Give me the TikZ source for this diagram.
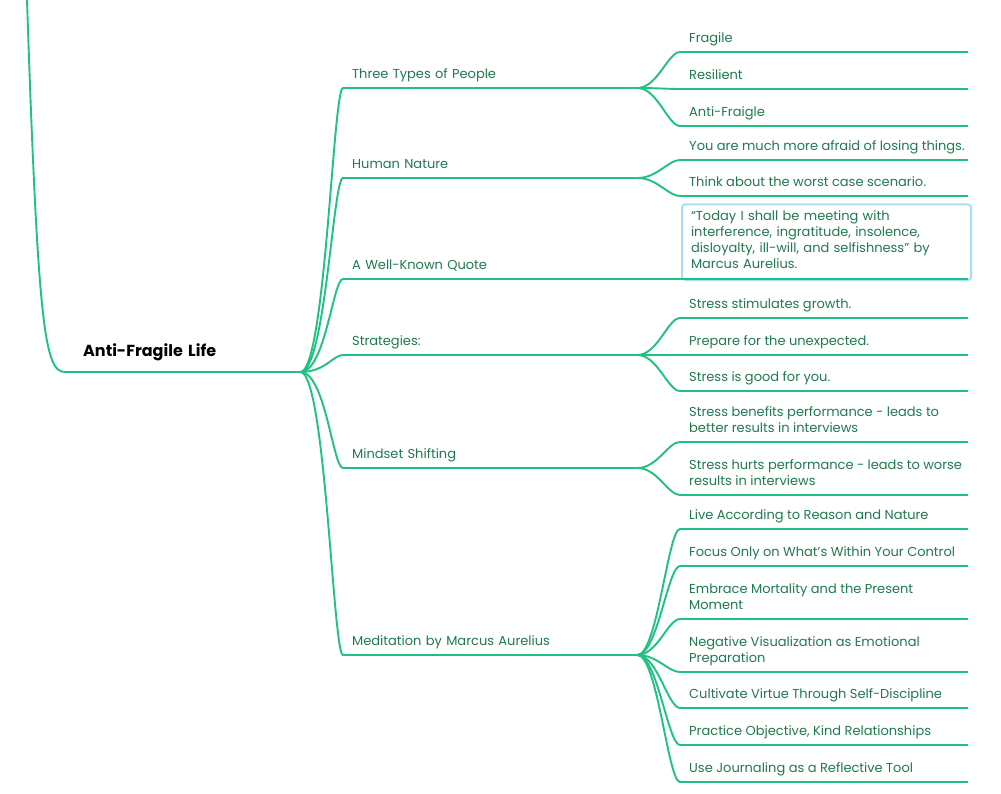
\documentclass[tikz,border=0pt]{standalone}
\usepackage{fontspec}
\setmainfont{Poppins}
\usepackage{xcolor}
\definecolor{linegreen}{HTML}{1FC280}
\definecolor{textgreen}{HTML}{1F7A4D}
\definecolor{boxblue}{HTML}{A9DDF6}
\tikzset{
  branch/.style={draw=linegreen, line width=1.9pt},
  rootnode/.style={anchor=south west, inner xsep=18pt, inner ysep=9.3pt, text width=199pt, align=left, font=\fontsize{16}{19}\selectfont\bfseries, text=black},
  topic/.style={anchor=south west, inner xsep=9pt, inner ysep=4.7pt, text width=276pt, align=left, font=\fontsize{13}{16}\selectfont, text=textgreen},
  leaf/.style={anchor=south west, inner xsep=9pt, inner ysep=4.7pt, align=left, font=\fontsize{13}{16}\selectfont, text=textgreen},
  quotebox/.style={leaf, text width=271pt, inner ysep=6.5pt, draw=boxblue, line width=2pt, rounded corners=3pt},
}
\begin{document}
\begin{tikzpicture}[x=1pt,y=-1pt]
  \useasboundingbox (0,0) rectangle (1001,793);

  % root
  \coordinate (top) at (27,0);
  \coordinate (rim) at (968,0); % right end of all leaf lines
  \node[rootnode] (root) at (65,372) {Anti-Fragile Life\strut};
  \draw[branch] (top) .. controls (38,330) and (45,372) .. (root.south west) -- (root.south east);

  % first level
  \node[topic] (t1) at (343,88)  {Three Types of People\strut};
  \node[topic] (t2) at (343,178) {Human Nature\strut};
  \node[topic] (t3) at (343,279) {A Well-Known Quote\strut};
  \node[topic] (t4) at (343,355) {Strategies:\strut};
  \node[topic] (t5) at (343,468) {Mindset Shifting\strut};
  \node[topic] (t6) at (343,655) {Meditation by Marcus Aurelius\strut};
  \foreach \t in {t1,t2,t3,t4,t5,t6}
    \draw[branch] (root.south east) .. controls +(25,0) and +(-10,0) .. (\t.south west) -- (\t.south east);

  % three types of people
  \node[leaf] (c11) at (680,52)  {Fragile\strut};
  \node[leaf] (c12) at (680,89)  {Resilient\strut};
  \node[leaf] (c13) at (680,126) {Anti-Fraigle\strut};
  % human nature
  \node[leaf] (c21) at (680,160) {You are much more afraid of losing things.\strut};
  \node[leaf] (c22) at (680,196) {Think about the worst case scenario.\strut};
  % quote
  \node[quotebox] (c31) at (681,281) {“Today I shall be meeting with\\interference, ingratitude, insolence,\\disloyalty, ill-will, and selfishness” by\\Marcus Aurelius.\strut};
  % strategies
  \node[leaf] (c41) at (680,318) {Stress stimulates growth.\strut};
  \node[leaf] (c42) at (680,355) {Prepare for the unexpected.\strut};
  \node[leaf] (c43) at (680,391) {Stress is good for you.\strut};
  % mindset shifting
  \node[leaf] (c51) at (680,442) {Stress benefits performance - leads to\\better results in interviews\strut};
  \node[leaf] (c52) at (680,495) {Stress hurts performance - leads to worse\\results in interviews\strut};
  % meditation
  \node[leaf] (c61) at (680,529) {Live According to Reason and Nature\strut};
  \node[leaf] (c62) at (680,566) {Focus Only on What’s Within Your Control\strut};
  \node[leaf] (c63) at (680,619) {Embrace Mortality and the Present\\Moment\strut};
  \node[leaf] (c64) at (680,672) {Negative Visualization as Emotional\\Preparation\strut};
  \node[leaf] (c65) at (680,708) {Cultivate Virtue Through Self-Discipline\strut};
  \node[leaf] (c66) at (680,745) {Practice Objective, Kind Relationships\strut};
  \node[leaf] (c67) at (680,782) {Use Journaling as a Reflective Tool\strut};

  % second level connectors
  \foreach \p/\c in {t1/c11,t1/c12,t1/c13,t2/c21,t2/c22,t4/c41,t4/c42,t4/c43,t5/c51,t5/c52,t6/c61,t6/c62,t6/c63,t6/c64,t6/c65,t6/c66,t6/c67}
    \draw[branch] (\p.south east) .. controls +(20,0) and +(-12,0) .. (\c.south west) -- (\c.south west -| rim);
  \draw[branch] (t3.south east) -- (t3.south east -| rim); % quote line runs straight
\end{tikzpicture}
\end{document}
